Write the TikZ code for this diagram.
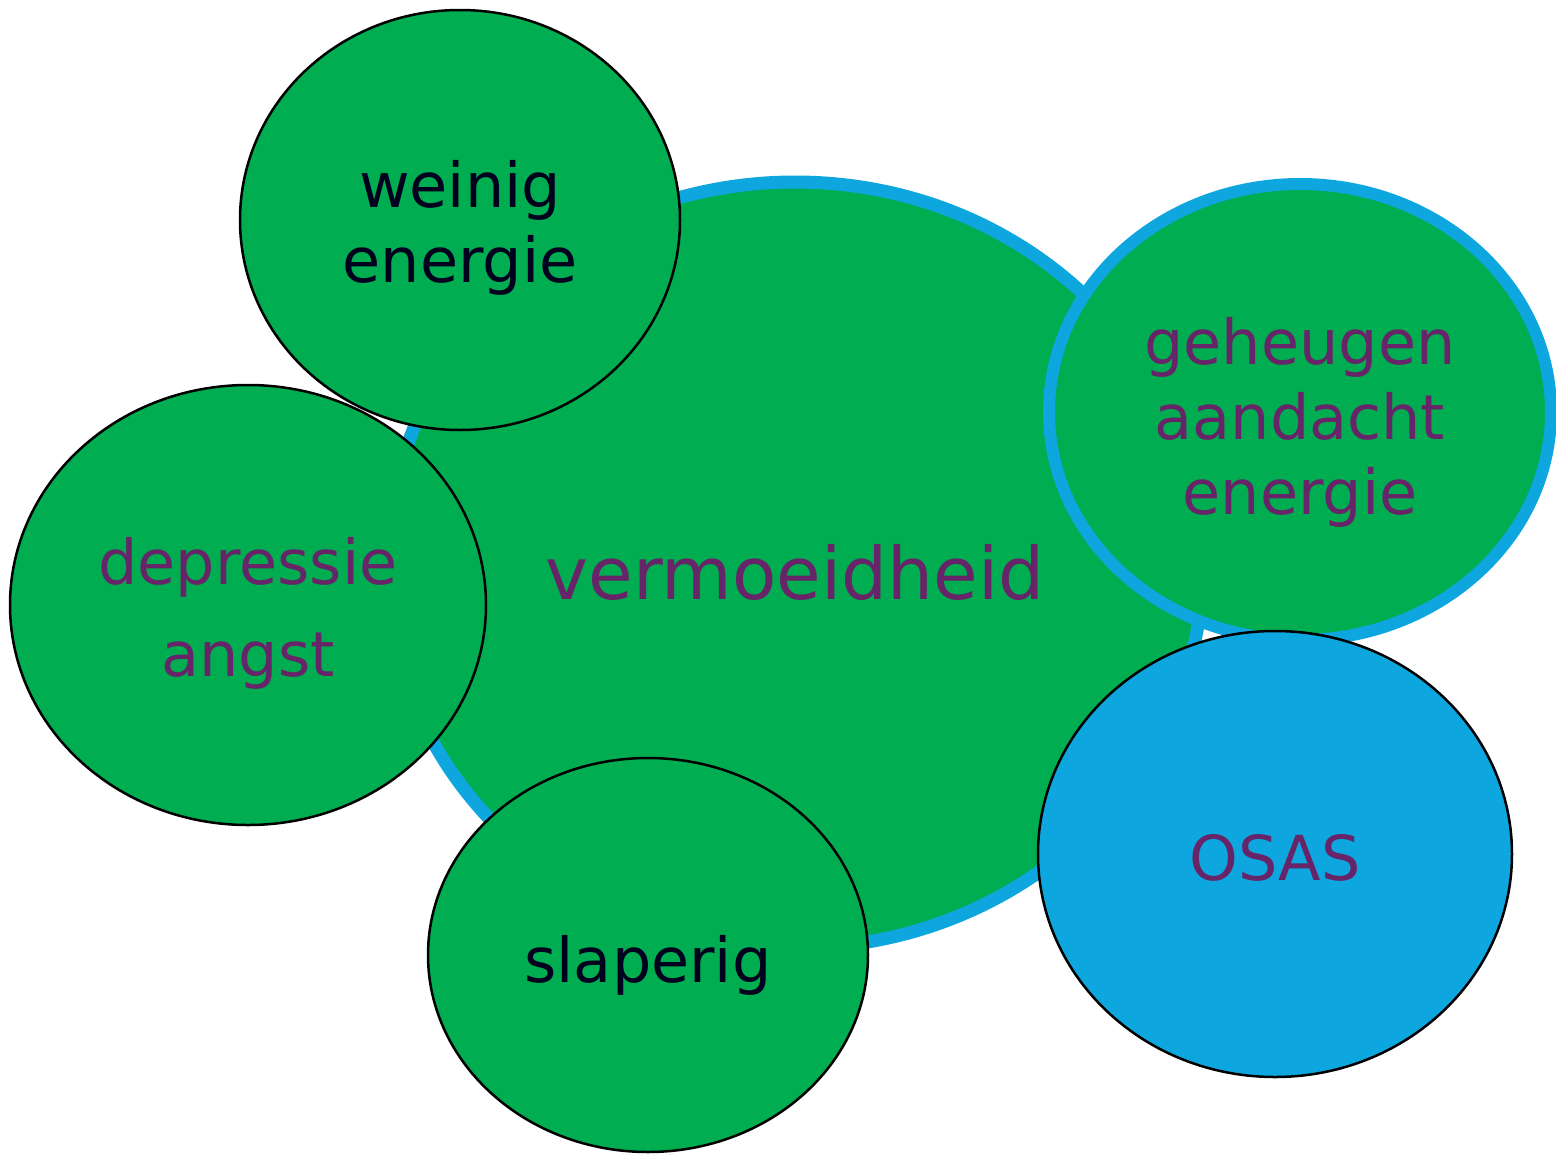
\documentclass[tikz,border=0pt]{standalone}
\usepackage{fontspec}
\setmainfont{DejaVu Sans}
\usepackage{tikz}
\usetikzlibrary{shapes.geometric}
\definecolor{bubblegreen}{RGB}{0,173,80}
\definecolor{bubbleblue}{RGB}{14,166,222}
\definecolor{textpurple}{RGB}{104,36,104}
\definecolor{textdark}{RGB}{0,0,30}
% extra room above the first line, pushes the text down a bit
\newcommand{\topgap}[1]{\rule{0pt}{#1}}
\begin{document}
\begin{tikzpicture}[x=1pt,y=-1pt, bubble/.style={ellipse,draw=black,line width=2.5pt,fill=bubblegreen,align=center,inner sep=0pt,font=\fontsize{62}{75}\selectfont}, ringed/.style={bubble,draw=bubbleblue,line width=12pt}, lbl/.style={text=textpurple}]
\useasboundingbox (0,0) rectangle (1556,1154);
\node[ringed,lbl,line width=13pt,minimum width=816pt,minimum height=766pt,font=\fontsize{72.5}{80}\selectfont] (tired) at (795,565) {\topgap{71pt}vermoeidheid};
\node[bubble,lbl,minimum width=476pt,minimum height=440pt] (mood) at (248,605) {\topgap{63pt}depressie\\[17pt]angst};
\node[bubble,text=textdark,minimum width=440pt,minimum height=420pt] (energy) at (460,220) {\topgap{63pt}weinig\\energie};
\node[ringed,lbl,minimum width=502pt,minimum height=456pt] (mind) at (1300,412) {\topgap{67pt}geheugen\\aandacht\\energie};
\node[bubble,lbl,fill=bubbleblue,minimum width=474pt,minimum height=446pt] (osas) at (1275,854) {\topgap{54pt}OSAS};
\node[bubble,text=textdark,minimum width=440pt,minimum height=394pt] (sleepy) at (648,955) {\topgap{67pt}slaperig};
\end{tikzpicture}
\end{document}
